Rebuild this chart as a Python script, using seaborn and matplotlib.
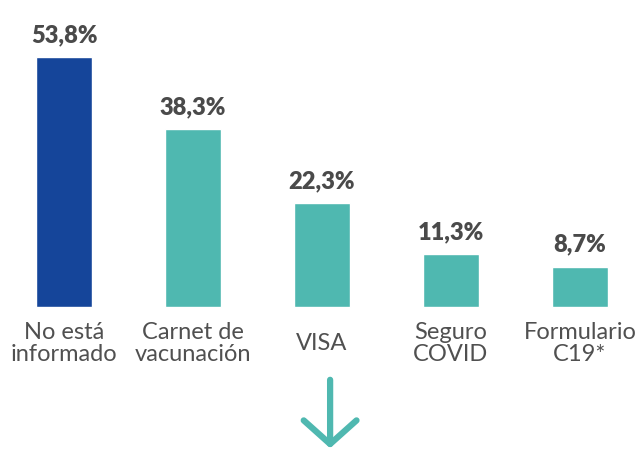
import seaborn as sns
import matplotlib.pyplot as plt

categories = ["No está\ninformado", "Carnet de\nvacunación", "VISA", "Seguro\nCOVID", "Formulario\nC19*"]
values = [53.8, 38.3, 22.3, 11.3, 8.7]
labels = ["53,8%", "38,3%", "22,3%", "11,3%", "8,7%"]
colors = ["#15459a", "#4fb8b0", "#4fb8b0", "#4fb8b0", "#4fb8b0"]

sns.set_style("white")
plt.rcParams['font.family'] = ['Lato', 'DejaVu Sans']

fig = plt.figure(figsize=(6.41, 4.5), dpi=100)
ax = fig.add_axes([0, 0, 1, 1])

sns.barplot(x=categories, y=values, hue=categories, palette=colors,
            legend=False, width=0.43, saturation=1, ax=ax)

ax.set_xlim(-0.496, 4.473)
ax.set_ylim(-30.77, 66.06)

# one container per hue level, in category order
for c, lab in zip(ax.containers, labels):
    ax.bar_label(c, labels=[lab], padding=8, fontsize=17, fontweight='heavy',
                 color='#4a4a4a')

for i, cat in enumerate(categories):
    ax.text(i, -7.9, cat, ha='center', va='center', fontsize=17,
            color='#505050', linespacing=1.05)

ax.annotate("", xy=(0.515, 0.004), xytext=(0.515, 0.156), xycoords='figure fraction',
            arrowprops=dict(arrowstyle='->,head_length=0.85,head_width=0.95', lw=4.5,
                            color='#4fb8b0', mutation_scale=20, shrinkA=0, shrinkB=0))

ax.axis('off')
fig.savefig("out.png", dpi=100)
